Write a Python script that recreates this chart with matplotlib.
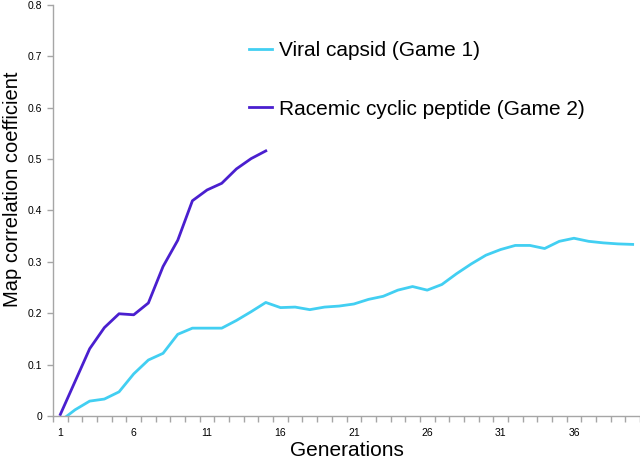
import matplotlib
matplotlib.use("Agg")
import matplotlib.pyplot as plt
from matplotlib.ticker import FixedLocator, NullFormatter
from matplotlib.lines import Line2D

plt.rcParams['font.family'] = ['Liberation Sans', 'DejaVu Sans']

gens_game1 = list(range(1, 41))
game1 = [-0.010, 0.012, 0.029, 0.033, 0.047, 0.082, 0.109, 0.122, 0.159, 0.171,
         0.171, 0.171, 0.186, 0.203, 0.221, 0.211, 0.212, 0.207, 0.212, 0.214,
         0.218, 0.227, 0.233, 0.245, 0.252, 0.245, 0.256, 0.277, 0.296, 0.313,
         0.324, 0.332, 0.332, 0.326, 0.340, 0.346, 0.340, 0.337, 0.335, 0.334]
gens_game2 = list(range(1, 16))
game2 = [0.003, 0.067, 0.131, 0.172, 0.199, 0.197, 0.220, 0.291, 0.342, 0.419,
         0.440, 0.453, 0.481, 0.501, 0.516]
labels = ["Viral capsid (Game 1)", "Racemic cyclic peptide (Game 2)"]
xtick_labels = [1, 6, 11, 16, 21, 26, 31, 36]
yticks = [0, 0.1, 0.2, 0.3, 0.4, 0.5, 0.6, 0.7, 0.8]

c1 = '#42cff2'
c2 = '#4a1fcf'
axis_col = '#a6a6a6'

fig = plt.figure(figsize=(6.4, 4.59), dpi=100)
ax = fig.add_axes([53/640, 43/459, 587/640, 411/459])

ax.plot(gens_game1, game1, color=c1, lw=2.0, solid_joinstyle='round', clip_on=True)
ax.plot(gens_game2, game2, color=c2, lw=2.0, solid_joinstyle='round', clip_on=True)

ax.set_xlim(0.5, 40.5)
ax.set_ylim(0, 0.8)

for s in ['top', 'right']:
    ax.spines[s].set_visible(False)
for s in ['left', 'bottom']:
    ax.spines[s].set_color(axis_col)
    ax.spines[s].set_linewidth(1.0)

ax.set_yticks(yticks)
ax.set_yticklabels([("0" if v == 0 else f"{v:.1f}") for v in yticks], fontsize=7.5)
ax.tick_params(axis='y', direction='out', length=4, width=1, color=axis_col, pad=4)

ax.set_xticks(xtick_labels)
ax.set_xticklabels([str(v) for v in xtick_labels], fontsize=7.5)
ax.tick_params(axis='x', which='major', length=0, pad=9)
ax.xaxis.set_minor_locator(FixedLocator([i + 0.5 for i in range(0, 41)]))
ax.xaxis.set_minor_formatter(NullFormatter())
ax.tick_params(axis='x', which='minor', direction='out', length=4, width=1, color=axis_col)

ax.set_xlabel("Generations", fontsize=15, labelpad=2)
ax.set_ylabel("Map correlation coefficient", fontsize=14.5)
ax.yaxis.set_label_coords(-0.053, 0.552)

handles = [Line2D([], [], color=c1, lw=2), Line2D([], [], color=c2, lw=2)]
leg = ax.legend(handles, labels, loc='upper left', bbox_to_anchor=(0.302, 0.957),
                frameon=False, fontsize=15, handlelength=1.1, handletextpad=0.36,
                labelspacing=1.88)

fig.savefig("out.png", dpi=100)
